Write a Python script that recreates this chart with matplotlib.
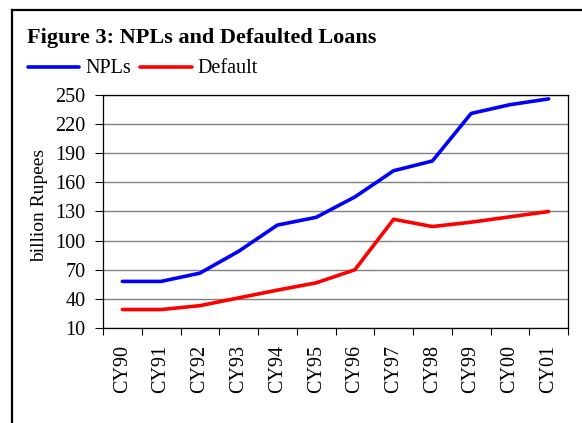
import matplotlib
matplotlib.use("Agg")
import matplotlib.pyplot as plt
from matplotlib.lines import Line2D
import numpy as np

categories = ["CY90", "CY91", "CY92", "CY93", "CY94", "CY95",
              "CY96", "CY97", "CY98", "CY99", "CY00", "CY01"]
npls = [58, 58, 66.5, 89, 116, 124, 145, 172, 182, 231, 240, 246]
default = [29, 29, 33, 41, 49, 56.5, 70, 122, 114.5, 119, 124.5, 130]
yticks = [10, 40, 70, 100, 130, 160, 190, 220, 250]

W, H = 582, 423
DPI = 100
fig = plt.figure(figsize=(W / DPI, H / DPI), dpi=DPI)
SERIF = ["Liberation Serif", "DejaVu Serif"]

def fx(px):
    return px / W

def fy(py):
    return 1 - py / H

# outer frame (left and top only visible)
fig.add_artist(Line2D([fx(12), fx(12)], [fy(10), fy(430)], color="black",
                      lw=1.6, transform=fig.transFigure, solid_capstyle="projecting"))
fig.add_artist(Line2D([fx(12), fx(600)], [fy(10), fy(10)], color="black",
                      lw=1.6, transform=fig.transFigure, solid_capstyle="projecting"))

# title
fig.text(fx(27), fy(43), "Figure 3: NPLs and Defaulted Loans", family=SERIF,
         fontsize=16, fontweight="bold", ha="left", va="baseline")

# axes
left, right, top, bottom = 103, 568, 95, 328
ax = fig.add_axes([fx(left), fy(bottom), fx(right - left), (bottom - top) / H])
x = np.arange(len(categories))
ax.plot(x, npls, color="#0000FF", lw=2.6, solid_capstyle="round", zorder=3)
ax.plot(x, default, color="#FF0000", lw=2.6, solid_capstyle="round", zorder=3)

ax.set_xlim(-0.5, len(categories) - 0.5)
ax.set_ylim(10, 250)
ax.set_yticks(yticks)
ax.set_yticklabels([str(v) for v in yticks], family=SERIF, fontsize=14.5)
ax.yaxis.grid(True, color="#808080", lw=1.0)
ax.set_axisbelow(True)
ax.tick_params(axis="y", direction="out", length=6, width=0.8, pad=6.5, color="black")

ax.set_xticks(np.arange(len(categories) + 1) - 0.5)
ax.set_xticklabels([])
ax.set_xticks(x, minor=True)
ax.set_xticklabels(categories, minor=True, rotation=90, family=SERIF, fontsize=14.5)
ax.tick_params(axis="x", which="major", direction="out", length=5, width=0.8)
ax.tick_params(axis="x", which="minor", length=0, pad=12)
for lab in ax.get_xticklabels(minor=True):
    lab.set_va("top")
    lab.set_ha("center")

for s in ax.spines.values():
    s.set_color("black")
    s.set_linewidth(0.9)

# y label
fig.text(fx(40), fy(205), "billion Rupees", family=SERIF, fontsize=14,
         rotation=90, ha="center", va="center")

# legend (drawn manually in figure coordinates)
fig.add_artist(Line2D([fx(28), fx(79)], [fy(67), fy(67)], color="#0000FF", lw=2.6,
                      transform=fig.transFigure, solid_capstyle="round"))
fig.text(fx(85), fy(73), "NPLs", family=SERIF, fontsize=14.5, ha="left", va="baseline")
fig.add_artist(Line2D([fx(140), fx(192)], [fy(67), fy(67)], color="#FF0000", lw=2.6,
                      transform=fig.transFigure, solid_capstyle="round"))
fig.text(fx(197), fy(73), "Default", family=SERIF, fontsize=14.5, ha="left", va="baseline")

fig.savefig("out.png", dpi=DPI)
